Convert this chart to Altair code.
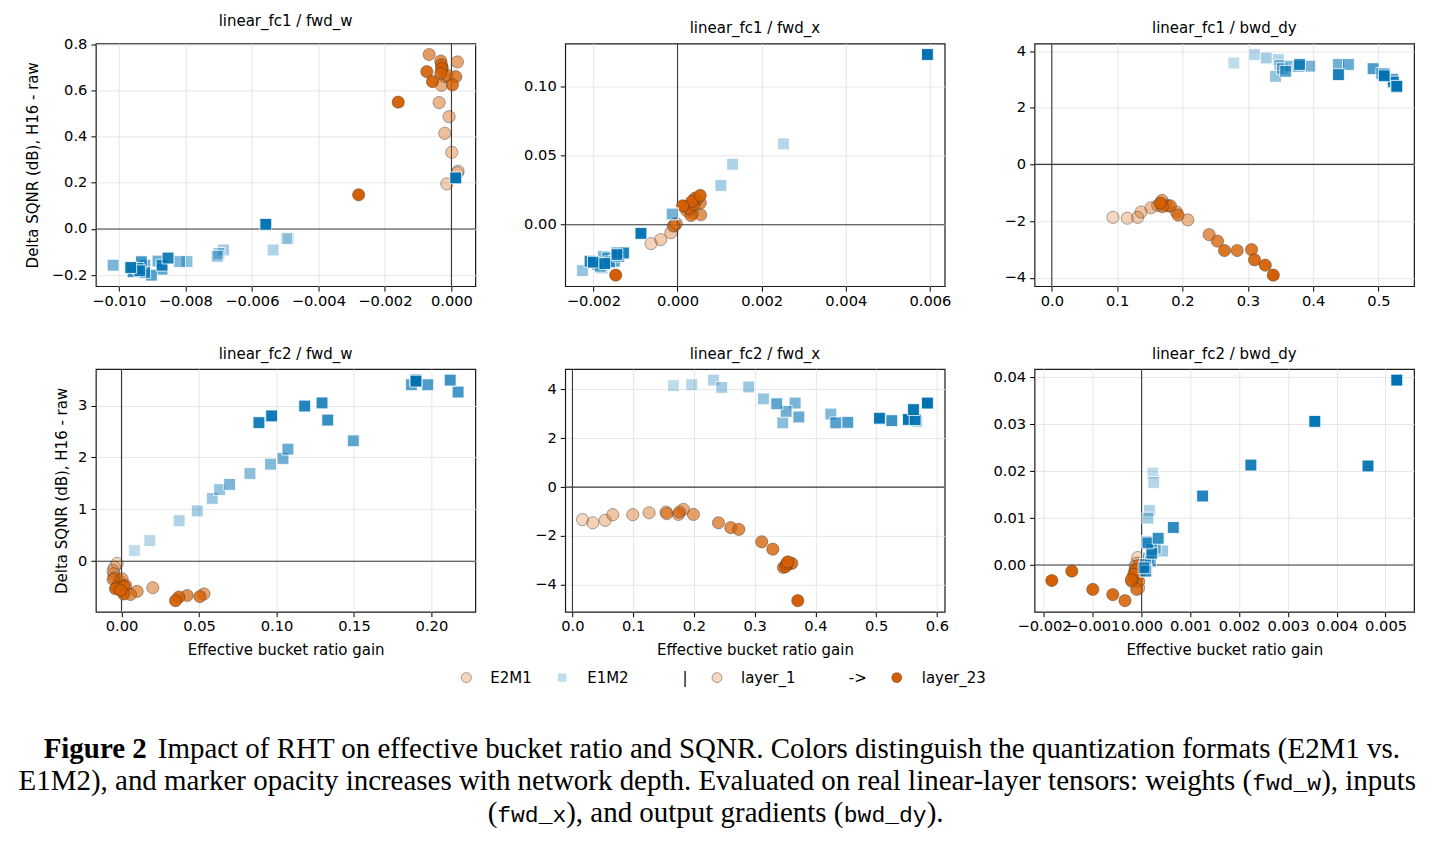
import altair as alt
import pandas as pd

# ---------------------------------------------------------------- data
PANEL_TITLES = [
    "linear_fc1 / fwd_w", "linear_fc1 / fwd_x", "linear_fc1 / bwd_dy",
    "linear_fc2 / fwd_w", "linear_fc2 / fwd_x", "linear_fc2 / bwd_dy",
]
X_TITLE = "Effective bucket ratio gain"
Y_TITLE = "Delta SQNR (dB), H16 - raw"

# (effective bucket ratio gain, delta SQNR dB, layer index 1..23)
FC1_W_E2M1 = [
    (0.00020, 0.250, 1), (0.00018, 0.243, 2), (-0.00014, 0.195, 3), (0.00001, 0.332, 4),
    (-0.00020, 0.414, 5), (-0.00007, 0.486, 6), (-0.00037, 0.547, 7), (-0.00030, 0.622, 8),
    (-0.00020, 0.660, 9), (0.00018, 0.723, 10), (-0.00028, 0.700, 11), (-0.00067, 0.755, 12),
    (-0.00012, 0.665, 13), (-0.00032, 0.727, 14), (-0.00030, 0.710, 15), (0.00013, 0.659, 16),
    (-0.00029, 0.694, 17), (0.00003, 0.624, 18), (-0.00032, 0.674, 19), (-0.00074, 0.681, 20),
    (-0.00057, 0.638, 21), (-0.00160, 0.549, 22), (-0.00279, 0.148, 23),
]
FC1_W_E1M2 = [
    (-0.00490, -0.040, 1), (-0.00495, -0.042, 2), (-0.00536, -0.091, 3), (-0.00685, -0.091, 4),
    (-0.00699, -0.106, 5), (-0.00704, -0.118, 6), (-0.00795, -0.141, 7), (-0.00817, -0.141, 8),
    (-0.01017, -0.157, 9), (-0.00882, -0.139, 10), (-0.00922, -0.157, 11), (-0.00870, -0.174, 12),
    (-0.00902, -0.200, 13), (-0.00922, -0.188, 14), (-0.00932, -0.142, 15), (-0.00957, -0.185, 16),
    (-0.00942, -0.171, 17), (-0.00870, -0.157, 18), (-0.00937, -0.181, 19), (-0.00852, -0.126, 20),
    (-0.00964, -0.167, 21), (-0.00558, 0.020, 22), (0.00013, 0.221, 23),
]
FC1_X_E2M1 = [
    (-0.00005, 0.0002, 1), (-0.00063, -0.0137, 2), (-0.00040, -0.0108, 3), (-0.00016, -0.0058, 4),
    (-0.00008, -0.0005, 5), (-0.00003, 0.0008, 6), (-0.00010, -0.0010, 7), (0.00028, 0.0140, 8),
    (0.00036, 0.0085, 9), (0.00030, 0.0110, 10), (0.00018, 0.0132, 11), (0.00022, 0.0101, 12),
    (0.00055, 0.0072, 13), (0.00054, 0.0157, 14), (0.00046, 0.0180, 15), (0.00032, 0.0067, 16),
    (0.00026, 0.0120, 17), (0.00038, 0.0145, 18), (0.00042, 0.0193, 19), (0.00034, 0.0169, 20),
    (0.00054, 0.0212, 21), (0.00012, 0.0137, 22), (-0.00147, -0.0366, 23),
]
FC1_X_E1M2 = [
    (-0.00012, 0.0080, 1), (0.00252, 0.0586, 2), (0.00131, 0.0439, 3), (0.00103, 0.0284, 4),
    (-0.00013, 0.0077, 5), (-0.00226, -0.0333, 6), (-0.00180, -0.0313, 7), (-0.00176, -0.0230, 8),
    (-0.00190, -0.0290, 9), (-0.00166, -0.0241, 10), (-0.00150, -0.0265, 11), (-0.00184, -0.0301, 12),
    (-0.00132, -0.0212, 13), (-0.00162, -0.0270, 14), (-0.00140, -0.0229, 15), (-0.00144, -0.0205, 16),
    (-0.00128, -0.0205, 17), (-0.00144, -0.0217, 18), (-0.00208, -0.0265, 19), (-0.00200, -0.0272, 20),
    (-0.00173, -0.0282, 21), (-0.00087, -0.0063, 22), (0.00594, 0.1234, 23),
]
FC1_DY_E2M1 = [
    (0.0936, -1.87, 1), (0.1155, -1.90, 2), (0.1314, -1.87, 3), (0.1365, -1.68, 4),
    (0.1518, -1.53, 5), (0.1621, -1.45, 6), (0.2081, -1.96, 7), (0.1738, -1.43, 8),
    (0.1907, -1.68, 9), (0.1789, -1.47, 10), (0.1687, -1.27, 11), (0.1815, -1.46, 12),
    (0.2408, -2.48, 13), (0.1692, -1.49, 14), (0.1933, -1.79, 15), (0.2536, -2.71, 16),
    (0.2837, -3.04, 17), (0.3057, -3.01, 18), (0.2643, -3.04, 19), (0.3103, -3.37, 20),
    (0.3267, -3.56, 21), (0.1660, -1.37, 22), (0.3390, -3.91, 23),
]
FC1_DY_E1M2 = [
    (0.2786, 3.58, 1), (0.3103, 3.88, 2), (0.3466, 3.70, 3), (0.3282, 3.76, 4),
    (0.3490, 3.50, 5), (0.3425, 3.11, 6), (0.3528, 3.38, 7), (0.3655, 3.47, 8),
    (0.3947, 3.47, 9), (0.4387, 3.53, 10), (0.4540, 3.53, 11), (0.3780, 3.47, 12),
    (0.3579, 3.29, 13), (0.4918, 3.38, 14), (0.5051, 3.21, 15), (0.5215, 3.00, 16),
    (0.3793, 3.53, 17), (0.5230, 2.91, 18), (0.5087, 3.19, 19), (0.4387, 3.17, 20),
    (0.5087, 3.13, 21), (0.5276, 2.74, 22), (0.5280, 2.76, 23),
]
FC2_W_E2M1 = [
    (-0.0028, -0.04, 1), (-0.0045, -0.115, 2), (-0.0054, -0.18, 3), (-0.0050, -0.24, 4),
    (-0.0045, -0.32, 5), (-0.0017, -0.43, 6), (-0.0011, -0.38, 7), (0.0202, -0.51, 8),
    (0.0004, -0.34, 9), (0.0532, -0.63, 10), (0.0101, -0.58, 11), (-0.0054, -0.35, 12),
    (0.0058, -0.64, 13), (0.0424, -0.66, 14), (0.0026, -0.47, 15), (-0.0028, -0.50, 16),
    (0.0506, -0.68, 17), (0.0015, -0.49, 18), (0.0370, -0.69, 19), (-0.0039, -0.53, 20),
    (0.0349, -0.76, 21), (0.0015, -0.63, 22), (-0.0006, -0.56, 23),
]
FC2_W_E1M2 = [
    (0.0084, 0.205, 1), (0.0183, 0.397, 2), (0.0372, 0.78, 3), (0.0489, 0.97, 4),
    (0.0586, 1.21, 5), (0.0633, 1.38, 6), (0.0829, 1.69, 7), (0.0962, 1.87, 8),
    (0.0698, 1.48, 9), (0.1042, 1.98, 10), (0.1074, 2.16, 11), (0.1496, 2.32, 12),
    (0.1871, 3.40, 13), (0.1976, 3.40, 14), (0.2172, 3.26, 15), (0.2121, 3.49, 16),
    (0.1331, 2.72, 17), (0.1294, 3.05, 18), (0.1182, 2.99, 19), (0.0887, 2.67, 20),
    (0.0969, 2.80, 21), (0.1899, 3.49, 22), (0.1900, 3.47, 23),
]
FC2_X_E2M1 = [
    (0.0165, -1.33, 1), (0.0335, -1.46, 2), (0.0538, -1.36, 3), (0.0664, -1.13, 4),
    (0.0993, -1.13, 5), (0.1262, -1.05, 6), (0.1542, -1.02, 7), (0.1828, -0.91, 8),
    (0.1745, -1.12, 9), (0.1553, -1.09, 10), (0.1992, -1.12, 11), (0.1762, -1.02, 12),
    (0.2404, -1.46, 13), (0.2607, -1.66, 14), (0.2739, -1.73, 15), (0.3117, -2.24, 16),
    (0.3299, -2.54, 17), (0.3474, -3.29, 18), (0.3611, -3.12, 19), (0.3513, -3.25, 20),
    (0.3530, -3.13, 21), (0.3546, -3.06, 22), (0.3710, -4.65, 23),
]
FC2_X_E1M2 = [
    (0.1663, 4.15, 1), (0.1965, 4.19, 2), (0.2322, 4.38, 3), (0.2459, 4.08, 4),
    (0.2903, 4.10, 5), (0.5670, 2.69, 5), (0.3145, 3.61, 6), (0.3463, 2.63, 7),
    (0.4254, 2.99, 8), (0.3666, 3.44, 9), (0.3518, 3.10, 10), (0.3727, 2.87, 11),
    (0.3364, 3.41, 12), (0.4336, 2.63, 13), (0.4533, 2.65, 14), (0.5055, 2.80, 15),
    (0.5258, 2.72, 16), (0.5532, 2.75, 17), (0.5055, 2.82, 19), (0.5532, 2.77, 20),
    (0.5642, 2.76, 21), (0.5615, 3.17, 22), (0.5845, 3.44, 23),
]
FC2_DY_E2M1 = [
    (-0.00008, 0.0016, 1), (-0.00010, 0.0004, 2), (-0.00013, -0.0003, 3), (-0.00010, -0.0013, 4),
    (-0.00006, -0.0049, 5), (-0.00006, -0.0021, 6), (-0.00013, -0.0028, 7), (-0.00003, -0.0006, 8),
    (-0.00006, -0.0001, 9), (-0.00010, -0.0021, 10), (-0.00016, -0.0024, 11), (-0.00014, -0.0013, 12),
    (-0.00020, -0.0035, 13), (-0.00006, -0.0035, 14), (-0.00012, -0.0010, 15), (-0.00010, -0.0052, 16),
    (-0.00016, -0.0020, 17), (-0.00021, -0.0031, 18), (-0.00034, -0.0076, 19), (-0.00059, -0.0063, 20),
    (-0.00100, -0.0052, 21), (-0.00143, -0.0013, 22), (-0.00184, -0.0033, 23),
]
FC2_DY_E1M2 = [
    (0.00023, 0.0196, 1), (0.00025, 0.0176, 2), (0.00016, 0.0116, 3), (0.00013, 0.0100, 4),
    (0.00043, 0.0030, 5), (0.00028, 0.0036, 6), (0.00011, 0.0050, 7), (0.00014, 0.0015, 8),
    (0.00018, 0.0008, 9), (0.00008, 0.0001, 10), (0.00010, -0.0013, 11), (0.00008, -0.0013, 12),
    (0.00005, -0.0006, 13), (0.00020, 0.0033, 14), (0.00021, 0.0025, 15), (0.00013, 0.0047, 16),
    (0.00034, 0.0057, 17), (0.00065, 0.0080, 18), (0.00125, 0.0147, 19), (0.00224, 0.0213, 20),
    (0.00464, 0.0211, 21), (0.00355, 0.0306, 22), (0.00523, 0.0394, 23),
]

PANEL_E2M1 = [FC1_W_E2M1, FC1_X_E2M1, FC1_DY_E2M1, FC2_W_E2M1, FC2_X_E2M1, FC2_DY_E2M1]
PANEL_E1M2 = [FC1_W_E1M2, FC1_X_E1M2, FC1_DY_E1M2, FC2_W_E1M2, FC2_X_E1M2, FC2_DY_E1M2]

X_TICKS = [
    [-0.010, -0.008, -0.006, -0.004, -0.002, 0.0],
    [-0.002, 0.0, 0.002, 0.004, 0.006],
    [0.0, 0.1, 0.2, 0.3, 0.4, 0.5],
    [0.0, 0.05, 0.10, 0.15, 0.20],
    [0.0, 0.1, 0.2, 0.3, 0.4, 0.5, 0.6],
    [-0.002, -0.001, 0.0, 0.001, 0.002, 0.003, 0.004, 0.005],
]
X_FMT = [".3f", ".3f", ".1f", ".2f", ".1f", ".3f"]
Y_TICKS = [
    [-0.2, 0.0, 0.2, 0.4, 0.6, 0.8],
    [0.0, 0.05, 0.10],
    [-4, -2, 0, 2, 4],
    [0, 1, 2, 3],
    [-4, -2, 0, 2, 4],
    [-0.01, 0.0, 0.01, 0.02, 0.03, 0.04],
]
Y_FMT = [".1f", ".2f", "d", "d", "d", ".2f"]

LEGEND_LABELS = ["E2M1", "E1M2", "|", "layer_1", "->", "layer_23"]

CAPTION_BOLD = "Figure 2"
CAPTION_L1 = "Impact of RHT on effective bucket ratio and SQNR. Colors distinguish the quantization formats (E2M1 vs."
CAPTION_L2 = ["E1M2), and marker opacity increases with network depth. Evaluated on real linear-layer tensors: weights (",
              "fwd_w", "), inputs"]
CAPTION_L3 = ["(", "fwd_x", "), and output gradients (", "bwd_dy", ")."]

# ---------------------------------------------------------------- style / layout
FONT = "DejaVu Sans"
SERIF = "Liberation Serif"
MONO = "Liberation Mono"
CAP_SIZE = 29
MONO_SIZE = 23
ORANGE = "#D55E00"
BLUE = "#0072B2"
EDGE = "#333333"
EDGE_OPACITY = 0.6
N_LAYERS = 23
ALPHA_MIN = 0.25

FIG_W, FIG_H = 1442, 845
LEFT, TOP = 95, 42
PANEL_W, PANEL_H = 380, 243
COL_GAP, ROW_GAP = 90, 83
BOTTOM_TOP = TOP + 2 * PANEL_H + 2 * ROW_GAP
BOTTOM_H = 120
Y_TITLE_PAD = [11, 8]


def mpl_limits(vals):
    """matplotlib-like autoscale: 5% margins, then widened to 0 if 0 lies outside."""
    lo, hi = min(vals), max(vals)
    m = 0.05 * (hi - lo)
    a, b = lo - m, hi + m
    if a > 0 or b < 0:
        lo, hi = min(lo, 0.0), max(hi, 0.0)
        m = 0.05 * (hi - lo)
        a, b = lo - m, hi + m
    return [a, b]


def axis(values, fmt, title, title_pad, label_pad):
    kw = dict(
        values=values, format=fmt, grid=True, gridColor="#e6e6e6", gridWidth=1,
        domain=False, ticks=True, tickSize=5, tickColor="#000000", tickWidth=1,
        labelFont=FONT, labelFontSize=14.7, labelColor="#000000", labelPadding=label_pad,
        labelFlush=False, labelOverlap=False,
        titleFont=FONT, titleFontSize=15, titleFontWeight="normal", titleColor="#000000",
        titlePadding=title_pad,
    )
    kw["title"] = title if title else None
    return alt.Axis(**kw)


def panel(i):
    row, col = divmod(i, 3)
    dc = pd.DataFrame(PANEL_E2M1[i], columns=["x", "y", "layer"]).sort_values("layer", kind="stable")
    ds = pd.DataFrame(PANEL_E1M2[i], columns=["x", "y", "layer"]).sort_values("layer", kind="stable")
    xdom = mpl_limits(list(dc["x"]) + list(ds["x"]))
    ydom = mpl_limits(list(dc["y"]) + list(ds["y"]))
    xs = alt.Scale(domain=xdom, nice=False, zero=False)
    ys = alt.Scale(domain=ydom, nice=False, zero=False)
    xax = axis(X_TICKS[i], X_FMT[i], X_TITLE if row == 1 else None, 9, 2)
    yax = axis(Y_TICKS[i], Y_FMT[i], Y_TITLE if col == 0 else None, Y_TITLE_PAD[row], 4)
    fop = alt.FillOpacity("layer:Q", scale=alt.Scale(domain=[1, N_LAYERS], range=[ALPHA_MIN, 1.0]), legend=None)
    zero = pd.DataFrame({"v": [0.0]})

    hline = alt.Chart(zero).mark_rule(color="#3a3a3a", strokeWidth=1.1).encode(
        y=alt.Y("v:Q", scale=ys, axis=yax))
    vline = alt.Chart(zero).mark_rule(color="#3a3a3a", strokeWidth=1.1).encode(
        x=alt.X("v:Q", scale=xs, axis=xax))
    circles = alt.Chart(dc).mark_point(
        shape="circle", filled=True, fill=ORANGE, stroke=EDGE, strokeOpacity=EDGE_OPACITY,
        strokeWidth=0.7, size=150, opacity=1
    ).encode(
        x=alt.X("x:Q", scale=xs, axis=xax),
        y=alt.Y("y:Q", scale=ys, axis=yax),
        fillOpacity=fop,
    )
    squares = alt.Chart(ds).mark_point(
        shape="square", filled=True, fill=BLUE, stroke="white", strokeWidth=0.8, size=140, opacity=1
    ).encode(
        x=alt.X("x:Q", scale=xs, axis=xax),
        y=alt.Y("y:Q", scale=ys, axis=yax),
        fillOpacity=fop,
    )
    return alt.layer(hline, vline, circles, squares).properties(
        width=PANEL_W, height=PANEL_H,
        title=alt.TitleParams(PANEL_TITLES[i], font=FONT, fontSize=15, fontWeight="normal",
                              color="#000000", anchor="middle", offset=7, frame="group"),
    )


# ---------------------------------------------------------------- legend + caption
LEG_Y = 677
LEG_SYMBOL_X = [466, 562, None, 717, None, 897]
LEG_TEXT_X = [490, 587, 685, 741, 858, 922]
CAP_BASE = [757, 790, 822]          # alphabetic baselines of the three caption lines
CAP_BOLD_RIGHT = 146
CAP_L1_X = 157
CAP_L2_MONO_X = 1253                # where the monospaced "fwd_w" starts
CAP_L3_X = [497, 497, 566, 844, 927]  # anchors of the line-3 segments

bx = alt.Scale(domain=[0, FIG_W], range=[-LEFT, FIG_W - LEFT])
by = alt.Scale(domain=[0, FIG_H], range=[-BOTTOM_TOP, FIG_H - BOTTOM_TOP])


def pos(fx, fy):
    return dict(x=alt.X(f"{fx}:Q", scale=bx, axis=None), y=alt.Y(f"{fy}:Q", scale=by, axis=None))


def text_layer(px, py, texts, align, font, size, weight="normal", baseline="alphabetic"):
    df = pd.DataFrame({"px": px, "py": py, "t": texts})
    return alt.Chart(df).mark_text(
        align=align, baseline=baseline, font=font, fontSize=size, fontWeight=weight, color="#000000"
    ).encode(**pos("px", "py"), text="t:N")


leg_circ = pd.DataFrame({
    "px": [LEG_SYMBOL_X[0], LEG_SYMBOL_X[3], LEG_SYMBOL_X[5]],
    "py": [LEG_Y] * 3,
    "a": [ALPHA_MIN, ALPHA_MIN, 1.0],
})
leg_sq = pd.DataFrame({"px": [LEG_SYMBOL_X[1]], "py": [LEG_Y], "a": [ALPHA_MIN]})
frame_df = pd.DataFrame({"px": [0], "px2": [FIG_W], "py": [0]})

# invisible page frame: fixes the figure's top-left corner and full width
frame_rule = alt.Chart(frame_df).mark_rule(color="white", strokeWidth=0.01).encode(
    x=alt.X("px:Q", scale=bx, axis=None), x2="px2:Q", y=alt.Y("py:Q", scale=by, axis=None))

l_circ = alt.Chart(leg_circ).mark_point(
    shape="circle", filled=True, fill=ORANGE, stroke=EDGE, strokeOpacity=EDGE_OPACITY,
    strokeWidth=0.7, size=100, opacity=1
).encode(**pos("px", "py"), fillOpacity=alt.FillOpacity("a:Q", scale=None, legend=None))
l_sq = alt.Chart(leg_sq).mark_point(
    shape="square", filled=True, fill=BLUE, stroke="white", strokeWidth=0.8, size=85, opacity=1
).encode(**pos("px", "py"), fillOpacity=alt.FillOpacity("a:Q", scale=None, legend=None))
l_t1 = text_layer([LEG_TEXT_X[k] for k in (0, 1, 3, 5)], [LEG_Y] * 4,
                  [LEGEND_LABELS[k] for k in (0, 1, 3, 5)], "left", FONT, 15, baseline="middle")
l_t2 = text_layer([LEG_TEXT_X[k] for k in (2, 4)], [LEG_Y] * 2,
                  [LEGEND_LABELS[k] for k in (2, 4)], "center", FONT, 15, baseline="middle")

mono_w = 0.6 * MONO_SIZE  # Liberation Mono advance per character
cap_bold = text_layer([CAP_BOLD_RIGHT], [CAP_BASE[0]], [CAPTION_BOLD], "right", SERIF, CAP_SIZE, "bold")
cap_l1 = text_layer([CAP_L1_X], [CAP_BASE[0]], [CAPTION_L1], "left", SERIF, CAP_SIZE)
cap_l2a = text_layer([CAP_L2_MONO_X], [CAP_BASE[1]], [CAPTION_L2[0]], "right", SERIF, CAP_SIZE)
cap_l2b = text_layer([CAP_L2_MONO_X], [CAP_BASE[1]], [CAPTION_L2[1]], "left", MONO, MONO_SIZE)
cap_l2c = text_layer([CAP_L2_MONO_X + mono_w * len(CAPTION_L2[1])], [CAP_BASE[1]], [CAPTION_L2[2]],
                     "left", SERIF, CAP_SIZE)
cap_l3a = text_layer([CAP_L3_X[0]], [CAP_BASE[2]], [CAPTION_L3[0]], "right", SERIF, CAP_SIZE)
cap_l3s = text_layer([CAP_L3_X[2], CAP_L3_X[4]], [CAP_BASE[2]] * 2, [CAPTION_L3[2], CAPTION_L3[4]],
                     "left", SERIF, CAP_SIZE)
cap_l3m = text_layer([CAP_L3_X[1], CAP_L3_X[3]], [CAP_BASE[2]] * 2, [CAPTION_L3[1], CAPTION_L3[3]],
                     "left", MONO, MONO_SIZE)

bottom = alt.layer(
    frame_rule, l_circ, l_sq, l_t1, l_t2,
    cap_bold, cap_l1, cap_l2a, cap_l2b, cap_l2c, cap_l3a, cap_l3s, cap_l3m,
).properties(
    width=PANEL_W, height=BOTTOM_H,
    view=alt.ViewBackground(stroke="transparent", strokeWidth=0),
)

# ---------------------------------------------------------------- assemble
chart = alt.concat(
    panel(0), panel(1), panel(2), panel(3), panel(4), panel(5), bottom,
    columns=3, spacing={"row": ROW_GAP, "column": COL_GAP}, bounds="flush",
).resolve_scale(
    x="independent", y="independent"
).properties(
    padding={"left": 0, "top": 0, "right": 0, "bottom": 0},
    background="white",
).configure(
    font=FONT,
).configure_view(
    stroke="#1a1a1a", strokeWidth=1.2,
)

chart.save("out.html", embed_options={"renderer": "svg", "actions": False})
